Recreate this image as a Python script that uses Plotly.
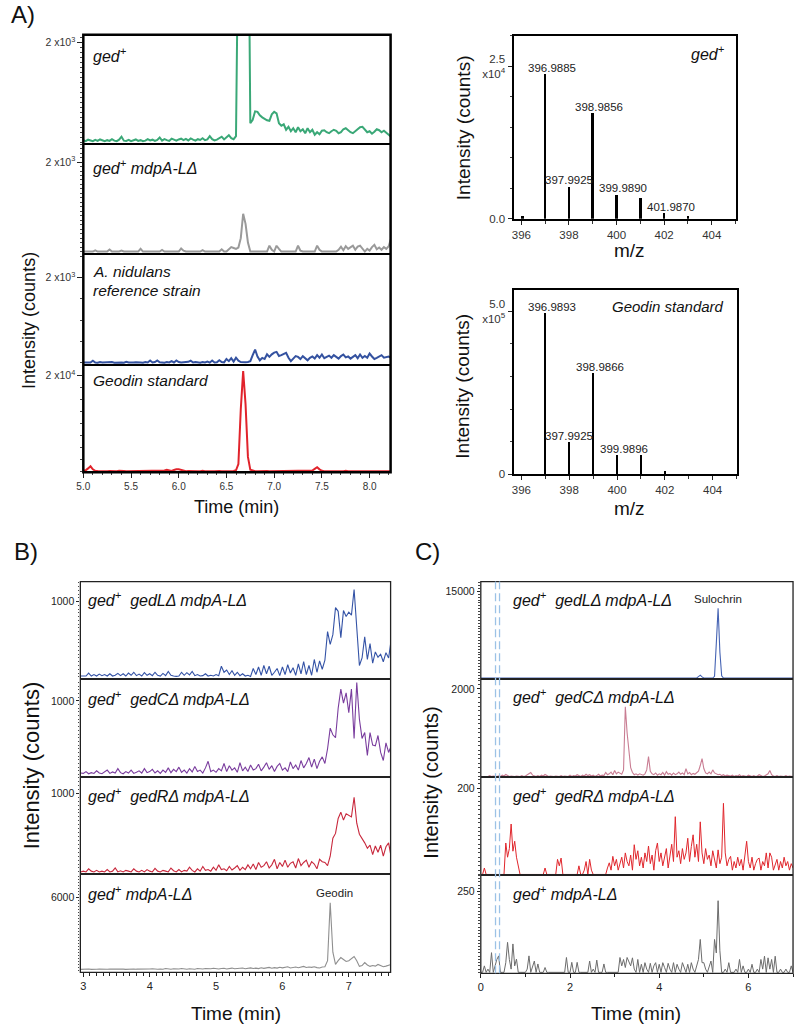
import numpy as np
import plotly.graph_objects as go

W, H = 797, 1033
FONT = "Liberation Sans, Arial, sans-serif"

# ===================== DATA =====================
# Panel A (left): extracted ion chromatograms, sampled every 0.025 min from 5.0 min
a_start, a_step = 5.0, 0.025
a_ged = [40, 20, 50, 30, 20, 45, 25, 55, 30, 20,
         40, 25, 60, 30, 20, 50, 110, 30, 25, 45,
         20, 35, 55, 25, 40, 20, 30, 60, 35, 50,
         25, 45, 95, 30, 60, 40, 25, 70, 45, 30,
         55, 70, 40, 65, 35, 75, 50, 30, 60, 45,
         80, 40, 55, 120, 60, 35, 50, 80, 110, 55,
         90, 140, 80, 60, 120, 4000, 9000, 9500, 9200, 6000,
         380, 450, 620, 610, 540, 500, 470, 440, 430, 560,
         610, 580, 380, 330, 360, 250, 310, 220, 280, 200,
         300, 220, 260, 180, 280, 200, 250, 150, 200, 160,
         230, 240, 200, 180, 220, 250, 230, 180, 200, 260,
         280, 240, 200, 180, 220, 260, 300, 310, 250, 200,
         220, 170, 210, 260, 240, 200, 230, 180, 150, 110]
a_ged_mdpA = [0, 0, 0, 0, 0, 25, 0, 0, 0, 0,
              0, 45, 0, 0, 0, 0, 20, 0, 0, 0,
              0, 0, 0, 0, 60, 0, 0, 0, 0, 0,
              0, 0, 0, 35, 0, 0, 0, 0, 0, 0,
              0, 70, 20, 0, 0, 0, 0, 0, 0, 0,
              30, 0, 0, 0, 0, 0, 0, 0, 50, 0,
              0, 60, 100, 80, 60, 90, 300, 845, 620, 200,
              0, 0, 0, 0, 0, 0, 0, 0, 130, 40,
              0, 130, 60, 0, 0, 0, 0, 0, 0, 0,
              130, 20, 0, 0, 0, 0, 0, 0, 130, 40,
              0, 0, 0, 0, 0, 0, 0, 40, 110, 30,
              120, 60, 100, 130, 40, 110, 130, 50, 0, 60,
              20, 100, 150, 50, 90, 40, 100, 60, 120, 290]
a_nidulans = [10, 5, 15, 10, 50, 10, 5, 20, 10, 15,
              5, 10, 20, 5, 10, 15, 10, 5, 25, 10,
              5, 10, 15, 5, 10, 5, 20, 10, 55, 10,
              20, 55, 15, 10, 5, 20, 10, 40, 10, 55,
              20, 10, 15, 5, 25, 50, 10, 20, 15, 5,
              20, 10, 30, 5, 55, 10, 15, 60, 20, 10,
              90, 40, 110, 30, 120, 50, 20, 10, 15, 20,
              40, 180, 313, 150, 60, 117, 90, 200, 140, 200,
              240, 258, 160, 180, 200, 235, 120, 40, 100, 160,
              140, 90, 157, 110, 60, 118, 150, 100, 180, 120,
              196, 110, 141, 170, 120, 180, 141, 100, 160, 196,
              130, 150, 100, 141, 180, 110, 196, 120, 160, 118,
              219, 150, 90, 118, 160, 180, 120, 140, 150, 118]
a_geodin_std = [100, 200, 600, 1040, 400, 100, 50, 0, 50, 0,
                0, 50, 0, 0, 0, 100, 0, 50, 0, 0,
                50, 0, 100, 0, 0, 50, 0, 0, 100, 0,
                0, 50, 0, 100, 150, 300, 100, 50, 250, 420,
                420, 300, 100, 0, 50, 0, 0, 50, 0, 0,
                100, 0, 50, 0, 0, 0, 100, 50, 0, 0,
                50, 0, 100, 50, 200, 1500, 13000, 21000, 14000, 3000,
                300, 100, 0, 0, 50, 0, 0, 50, 0, 0,
                0, 100, 0, 0, 50, 0, 0, 0, 100, 0,
                0, 50, 0, 0, 100, 0, 150, 500, 830, 400,
                100, 0, 50, 0, 0, 0, 50, 0, 0, 0,
                100, 0, 0, 50, 0, 0, 0, 50, 0, 0,
                100, 0, 50, 0, 0, 100, 0, 50, 0, 0]

# Panel A (right): mass spectra
ms_ged_mz = [396.03, 396.9885, 397.9925, 398.9856, 399.9890, 400.99, 401.9870, 402.99]
ms_ged_int = [500, 23700, 5300, 17300, 4000, 3500, 1000, 500]
ms_ged_lbl = ["", "396.9885", "397.9925", "398.9856", "399.9890", "", "401.9870", ""]
ms_std_mz = [396.9893, 397.9925, 398.9866, 399.9896, 400.99, 401.99]
ms_std_int = [494000, 98000, 311000, 58000, 58000, 9000]
ms_std_lbl = ["396.9893", "397.9925", "398.9866", "399.9896", "", ""]

# Panel B: sampled every 0.04 min from 2.96 min
b_start, b_step = 2.96, 0.04
b_gedL = [10, 15, 10, 50, 10, 30, 10, 35, 15, 30,
          10, 40, 10, 20, 45, 15, 40, 10, 50, 20,
          60, 15, 35, 10, 55, 20, 40, 15, 60, 20,
          10, 45, 15, 70, 20, 10, 5, 10, 60, 20,
          55, 25, 70, 15, 30, 10, 15, 40, 10, 20,
          10, 30, 15, 140, 60, 90, 30, 80, 20, 60,
          15, 40, 10, 20, 5, 110, 30, 130, 20, 150,
          40, 140, 20, 60, 110, 15, 130, 30, 160, 50,
          120, 20, 170, 40, 200, 30, 150, 20, 230, 60,
          210, 100, 220, 600, 430, 560, 920, 870, 520, 880,
          800, 860, 820, 1160, 700, 150, 250, 530, 230, 440,
          180, 330, 260, 300, 200, 320, 250, 500]
b_gedC = [20, 15, 40, 10, 25, 15, 50, 20, 10, 30,
          60, 15, 35, 20, 80, 25, 10, 40, 20, 60,
          15, 30, 50, 20, 80, 25, 40, 70, 20, 50,
          15, 60, 30, 90, 25, 70, 40, 100, 30, 60,
          20, 80, 35, 110, 40, 60, 20, 90, 180, 40,
          60, 30, 80, 50, 150, 40, 120, 60, 90, 30,
          160, 50, 100, 40, 130, 60, 80, 140, 50, 100,
          160, 70, 120, 40, 110, 150, 60, 90, 40, 170,
          80, 130, 60, 190, 90, 150, 230, 100, 210, 80,
          180, 240, 150, 350, 630, 540, 500, 900, 1160, 970,
          1110, 840, 1160, 490, 1250, 750, 490, 570, 260, 570,
          400, 390, 530, 300, 190, 430, 300, 390]
b_gedR = [0, 10, 0, 40, 10, 0, 20, 0, 10, 0,
          30, 0, 10, 50, 0, 15, 0, 20, 10, 0,
          40, 10, 0, 20, 0, 30, 10, 0, 45, 10,
          0, 20, 10, 0, 50, 15, 0, 30, 0, 20,
          10, 60, 20, 0, 40, 10, 70, 20, 30, 10,
          60, 20, 90, 30, 40, 15, 70, 25, 50, 80,
          20, 60, 30, 90, 40, 100, 30, 120, 60, 80,
          130, 50, 90, 160, 40, 120, 70, 150, 60, 110,
          130, 50, 170, 80, 120, 150, 60, 130, 100, 40,
          160, 130, 120, 80, 200, 430, 490, 680, 760, 660,
          740, 720, 700, 950, 620, 480, 430, 370, 300, 340,
          220, 330, 250, 340, 200, 320, 370, 180]
b_mdpA = [80, 100, 90, 120, 80, 110, 90, 100, 80, 120,
          90, 100, 110, 80, 120, 90, 100, 80, 110, 90,
          120, 100, 90, 130, 100, 80, 110, 140, 90, 100,
          120, 100, 150, 110, 90, 130, 100, 120, 160, 110,
          100, 140, 120, 90, 150, 130, 110, 160, 120, 140,
          180, 130, 110, 150, 170, 120, 140, 190, 130, 160,
          150, 200, 140, 180, 210, 160, 190, 150, 220, 170,
          200, 250, 180, 230, 190, 260, 210, 240, 300, 200,
          230, 280, 220, 260, 330, 240, 280, 250, 300, 230,
          200, 280, 300, 800, 5590, 1500, 500, 800, 1060, 900,
          740, 800, 950, 1150, 800, 330, 400, 650, 450, 330,
          400, 350, 490, 380, 300, 350, 450, 490]
b_geodin_time = 6.72

# Panel C: sampled every 0.04 min from 0 min
c_start, c_step = 0.0, 0.04
c_gedL_time = [0.0, 2.96, 3.0, 3.04, 4.84, 4.88, 4.92, 4.96, 5.0, 5.2, 5.24, 5.28, 5.32, 5.36, 5.40, 5.44, 7.0]
c_gedL_val = [0, 0, 40, 0, 0, 250, 500, 200, 0, 0, 300, 6000, 12070, 4500, 400, 0, 0]
c_gedC = [0, 0, 10, 0, 0, 20, 0, 10, 0, 0,
          15, 0, 30, 10, 45, 20, 0, 10, 0, 0,
          10, 0, 0, 20, 0, 10, 40, 60, 90, 30,
          10, 0, 20, 0, 30, 10, 45, 20, 0, 10,
          0, 0, 10, 0, 0, 20, 0, 10, 0, 0,
          30, 0, 20, 10, 40, 20, 0, 30, 10, 50,
          20, 40, 10, 30, 0, 20, 50, 10, 30, 20,
          90, 40, 60, 100, 40, 135, 60, 100, 80, 50,
          150, 1595, 1000, 545, 200, 90, 40, 60, 30, 60,
          40, 30, 60, 150, 455, 120, 60, 40, 80, 30,
          60, 40, 90, 30, 110, 50, 70, 30, 80, 40,
          60, 100, 50, 80, 40, 180, 60, 90, 40, 70,
          50, 90, 120, 250, 410, 180, 80, 60, 100, 60,
          150, 80, 60, 40, 50, 20, 40, 10, 30, 20,
          10, 30, 0, 20, 10, 40, 0, 20, 10, 0,
          30, 10, 0, 20, 0, 10, 40, 20, 0, 10,
          30, 60, 135, 40, 10, 0, 20, 0, 10, 0,
          0, 20, 0, 10, 0, 0]
c_gedR = [0, 0, 15, 0, 0, 0, 0, 0, 0, 0,
          0, 0, 0, 0, 73, 40, 60, 117, 54, 77,
          40, 20, 0, 0, 0, 0, 0, 0, 0, 0,
          0, 0, 0, 0, 0, 0, 15, 0, 0, 0,
          0, 0, 0, 35, 20, 38, 0, 0, 0, 0,
          0, 0, 0, 0, 0, 20, 0, 0, 10, 30,
          0, 35, 10, 0, 0, 0, 0, 0, 0, 0,
          0, 15, 27, 10, 42, 20, 35, 10, 25, 40,
          15, 50, 30, 20, 45, 10, 69, 35, 55, 20,
          40, 15, 50, 30, 66, 25, 45, 10, 55, 73,
          30, 50, 20, 40, 60, 15, 45, 70, 30, 134,
          40, 55, 25, 60, 35, 50, 84, 30, 65, 92,
          40, 70, 30, 122, 50, 25, 60, 35, 45, 20,
          55, 30, 15, 57, 25, 40, 165, 50, 20, 35,
          42, 10, 30, 15, 40, 20, 35, 10, 45, 77,
          30, 15, 40, 10, 25, 35, 38, 10, 30, 20,
          50, 15, 50, 40, 10, 25, 35, 10, 30, 15,
          40, 20, 30, 10, 25, 15]
c_mdpA = [0, 0, 20, 0, 10, 0, 61, 0, 20, 40,
          51, 0, 0, 0, 30, 93, 40, 10, 88, 20,
          41, 0, 0, 0, 0, 0, 10, 51, 0, 20,
          35, 0, 26, 0, 0, 0, 15, 0, 0, 0,
          0, 0, 0, 0, 0, 0, 0, 0, 46, 0,
          0, 31, 0, 0, 31, 0, 0, 0, 0, 0,
          0, 35, 0, 10, 0, 38, 0, 0, 0, 26,
          0, 0, 0, 0, 0, 0, 0, 0, 46, 20,
          40, 15, 46, 30, 20, 45, 10, 0, 40, 0,
          25, 0, 30, 10, 0, 28, 0, 20, 30, 0,
          25, 0, 30, 15, 0, 28, 10, 0, 30, 0,
          25, 10, 0, 30, 15, 0, 25, 0, 30, 10,
          0, 20, 40, 102, 30, 30, 10, 0, 20, 35,
          0, 102, 60, 222, 67, 0, 0, 10, 0, 30,
          0, 0, 0, 10, 0, 40, 0, 20, 0, 0,
          10, 0, 25, 0, 0, 10, 0, 40, 10, 50,
          0, 45, 10, 40, 0, 50, 0, 0, 10, 0,
          0, 10, 0, 0, 20, 0]
c_sulochrin_time = 5.32
c_marker_times = [0.33, 0.42]


def grid(start, step, vals):
    return list(np.round(start + step * np.arange(len(vals)), 4))


# ===================== FIGURE =====================
fig = go.Figure()
counter = [0]
shapes = []


def make_axes(box, xr, yr, xkw, ykw):
    counter[0] += 1
    n = counter[0]
    sfx = "" if n == 1 else str(n)
    x0, y0, x1, y1 = box
    fig.update_layout(**{
        "xaxis" + sfx: dict(domain=[x0 / W, x1 / W], range=xr, anchor="y" + sfx,
                            showgrid=False, zeroline=False, **xkw),
        "yaxis" + sfx: dict(domain=[1 - y1 / H, 1 - y0 / H], range=yr, anchor="x" + sfx,
                            showgrid=False, zeroline=False, **ykw),
    })
    return "x" + sfx, "y" + sfx


def frame(box, color, width):
    x0, y0, x1, y1 = box
    shapes.append(dict(type="rect", xref="paper", yref="paper", x0=x0 / W, x1=x1 / W,
                       y0=1 - y1 / H, y1=1 - y0 / H, line=dict(color=color, width=width),
                       fillcolor="rgba(0,0,0,0)"))


def line_trace(xid, yid, x, y, color, width):
    fig.add_trace(go.Scatter(x=x, y=y, xaxis=xid, yaxis=yid, mode="lines",
                             line=dict(color=color, width=width), hoverinfo="skip"))


annots = []


def text(px, py, s, size, xanchor="center", angle=0, color="#111", italic=False):
    if italic:
        s = "<i>" + s + "</i>"
    annots.append(dict(x=px / W, y=1 - py / H, xref="paper", yref="paper", text=s,
                       showarrow=False, xanchor=xanchor, yanchor="middle", textangle=angle,
                       font=dict(family=FONT, size=size, color=color)))


# ---------- Panel A left ----------
a_boxes = [(77, 35, 387, 145), (77, 145, 387, 255), (77, 255, 387, 367), (77, 367, 387, 475)]
a_yr = [[-40, 2160], [-44, 2400], [-47, 2565], [-210, 22290]]
a_ticks = [(2000, "2 x10<sup>3</sup>", 100), (2000, "2 x10<sup>3</sup>", 100),
           (2000, "2 x10<sup>3</sup>", 500), (20000, "2 x10<sup>4</sup>", 2500)]
a_series = [(a_ged, "#3aa877"), (a_ged_mdpA, "#9a9a9a"), (a_nidulans, "#3452a0"), (a_geodin_std, "#e1232b")]
for k in range(4):
    bottom = k == 3
    xkw = dict(showline=True, mirror=True, linecolor="black", linewidth=1.3)
    if bottom:
        xkw.update(ticks="outside", ticklen=5, tickwidth=1.2, tickcolor="#222",
                   tick0=5.0, dtick=0.5, tickformat=".1f",
                   tickfont=dict(family=FONT, size=10, color="#333"),
                   minor=dict(ticks="outside", ticklen=2, dtick=0.1, tickcolor="#444"))
    else:
        xkw.update(ticks="", showticklabels=False)
    tv, tt, md = a_ticks[k]
    ykw = dict(showline=False, tickmode="array", tickvals=[tv], ticktext=[tt],
               ticks="outside", ticklen=5, tickcolor="#222",
               tickfont=dict(family=FONT, size=10.5, color="#333"),
               minor=dict(ticks="outside", ticklen=2.5, dtick=md, tick0=0, tickcolor="#444"))
    xid, yid = make_axes(a_boxes[k], [5.0, 8.22], a_yr[k], xkw, ykw)
    vals, col = a_series[k]
    line_trace(xid, yid, grid(a_start, a_step, vals), vals, col, 2)
frame((77, 35, 387, 475), "black", 2.5)

text(85, 55, "ged<sup>+</sup>", 16, "left", italic=True)
text(85, 168, "ged<sup>+</sup> mdpA-LΔ", 16, "left", italic=True)
text(85, 273, "A. nidulans", 15.5, "left", italic=True)
text(85, 292, "reference strain", 15.5, "left", italic=True)
text(85, 383, "Geodin standard", 15.5, "left", italic=True)
text(232, 510, "Time (min)", 18)
text(22, 322, "Intensity (counts)", 18, angle=-90)
text(16, 15, "A)", 24)

# ---------- Panel A right: spectra ----------
spec = [((511, 36, 735, 220), [0, 30000], ms_ged_mz, ms_ged_int, ms_ged_lbl,
         ["0.0", "2.5<br>x10<sup>4</sup>"], [0, 25000], 5000),
        ((511, 292, 736, 477), [0, 564000], ms_std_mz, ms_std_int, ms_std_lbl,
         ["0", "5.0<br>x10<sup>5</sup>"], [0, 500000], 100000)]
for box, yr, mz, inten, lbls, ttext, tvals, md in spec:
    xkw = dict(showline=True, mirror=True, linecolor="black", linewidth=2,
               ticks="outside", ticklen=4, tickcolor="#222", tick0=396, dtick=2,
               tickfont=dict(family=FONT, size=11.5, color="#333"),
               minor=dict(ticks="outside", ticklen=3, dtick=1, tick0=396, tickcolor="#333"))
    ykw = dict(showline=True, mirror=True, linecolor="black", linewidth=2,
               tickmode="array", tickvals=tvals, ticktext=ttext, ticks="outside", ticklen=4,
               tickcolor="#222", tickfont=dict(family=FONT, size=11.5, color="#333"),
               minor=dict(ticks="outside", ticklen=2, dtick=md, tick0=0, tickcolor="#444"))
    xid, yid = make_axes(box, [395.67, 405], yr, xkw, ykw)
    fig.add_trace(go.Bar(x=mz, y=inten, xaxis=xid, yaxis=yid, width=0.08,
                         marker=dict(color="black", line=dict(width=0)), hoverinfo="skip"))
    for m, v, lb in zip(mz, inten, lbls):
        if lb:
            shift = 0 if lb.startswith("397.99") else 7
            annots.append(dict(x=m, y=v, xref=xid, yref=yid, text=lb, showarrow=False,
                               xanchor="center", yanchor="bottom", xshift=shift, yshift=-2,
                               font=dict(family=FONT, size=11.5, color="#222")))

text(707, 53, "ged<sup>+</sup>", 16, italic=True)
text(667, 308, "Geodin standard", 15, italic=True)
text(460, 128, "Intensity (counts)", 19, angle=-90)
text(628, 252, "m/z", 19)
text(460, 388, "Intensity (counts)", 19, angle=-90)
text(628, 511, "m/z", 19)

# ---------- Panel B ----------
b_boxes = [(74, 585, 387, 683), (74, 683, 387, 782), (74, 782, 387, 879), (74, 879, 387, 978)]
b_yr = [[-30, 1265], [-40, 1297], [-25, 1202], [-160, 7970]]
b_ticks = [(1000, 50), (1000, 50), (1000, 50), (6000, 250)]
b_series = [(b_gedL, "#3453a6"), (b_gedC, "#7a3d9e"), (b_gedR, "#c8283c"), (b_mdpA, "#8f8f8f")]
b_ids = []
for k in range(4):
    bottom = k == 3
    xkw = dict(showline=True, mirror=True, linecolor="#222", linewidth=0.9)
    if bottom:
        xkw.update(ticks="outside", ticklen=4, tickcolor="#222", tick0=3, dtick=1,
                   tickfont=dict(family=FONT, size=11, color="#222"),
                   minor=dict(ticks="outside", ticklen=2.5, dtick=0.1, tick0=3, tickcolor="#222"))
    else:
        xkw.update(ticks="", showticklabels=False)
    tv, md = b_ticks[k]
    ykw = dict(showline=False, tickmode="array", tickvals=[tv], ticktext=[str(tv)],
               ticks="outside", ticklen=3, tickcolor="#222",
               tickfont=dict(family=FONT, size=10.5, color="#222"),
               minor=dict(ticks="outside", ticklen=1.5, dtick=md, tick0=0, tickcolor="#444"))
    xid, yid = make_axes(b_boxes[k], [2.955, 7.63], b_yr[k], xkw, ykw)
    b_ids.append((xid, yid))
    vals, col = b_series[k]
    line_trace(xid, yid, grid(b_start, b_step, vals), vals, col, 1.1)
frame((74, 585, 387, 978), "#222", 1.3)

b_labels = ["ged<sup>+</sup>  gedLΔ mdpA-LΔ", "ged<sup>+</sup>  gedCΔ mdpA-LΔ",
            "ged<sup>+</sup>  gedRΔ mdpA-LΔ", "ged<sup>+</sup> mdpA-LΔ"]
for lab, py in zip(b_labels, [603, 702, 800, 898]):
    text(80, py, lab, 16, "left", italic=True)
annots.append(dict(x=b_geodin_time, y=1 - 898 / H, xref=b_ids[3][0], yref="paper", text="Geodin",
                   showarrow=False, xanchor="center", yanchor="middle", xshift=4,
                   font=dict(family=FONT, size=11.5, color="#222")))
text(231, 1019, "Time (min)", 19)
text(25, 770, "Intensity (counts)", 22, angle=-90)
text(19, 555, "B)", 24)

# ---------- Panel C ----------
c_boxes = [(478, 585, 793, 683), (478, 683, 793, 782), (478, 782, 793, 880), (478, 880, 793, 979)]
c_yr = [[-170, 16700], [-23, 2227], [-1, 225], [-3, 302]]
c_ticks = [(15000, 500), (2000, 100), (200, 10), (250, 10)]
c_ids = []
for k in range(4):
    bottom = k == 3
    xkw = dict(showline=True, mirror=True, linecolor="#222", linewidth=0.9)
    if bottom:
        xkw.update(ticks="outside", ticklen=4, tickcolor="#222", tick0=0, dtick=2,
                   tickfont=dict(family=FONT, size=11, color="#222"),
                   minor=dict(ticks="outside", ticklen=2.5, dtick=1, tick0=0, tickcolor="#222"))
    else:
        xkw.update(ticks="", showticklabels=False)
    tv, md = c_ticks[k]
    ykw = dict(showline=False, tickmode="array", tickvals=[tv], ticktext=[str(tv)],
               ticks="outside", ticklen=3, tickcolor="#222",
               tickfont=dict(family=FONT, size=10.5, color="#222"),
               minor=dict(ticks="outside", ticklen=1.5, dtick=md, tick0=0, tickcolor="#444"))
    xid, yid = make_axes(c_boxes[k], [0, 7.0], c_yr[k], xkw, ykw)
    c_ids.append((xid, yid))
frame((478, 585, 793, 979), "#222", 1.3)

line_trace(c_ids[0][0], c_ids[0][1], c_gedL_time, c_gedL_val, "#4563b3", 1.1)
line_trace(c_ids[1][0], c_ids[1][1], grid(c_start, c_step, c_gedC), c_gedC, "#c97d93", 1.1)
line_trace(c_ids[2][0], c_ids[2][1], grid(c_start, c_step, c_gedR), c_gedR, "#e0262c", 1.0)
line_trace(c_ids[3][0], c_ids[3][1], grid(c_start, c_step, c_mdpA), c_mdpA, "#6c6c6c", 1.0)

for t in c_marker_times:
    shapes.append(dict(type="line", xref=c_ids[0][0], yref="paper", x0=t, x1=t,
                       y0=1 - 979 / H, y1=1 - 585 / H,
                       line=dict(color="#9cc2e6", width=1.3, dash="8px,4px")))

c_labels = ["ged<sup>+</sup>  gedLΔ mdpA-LΔ", "ged<sup>+</sup>  gedCΔ mdpA-LΔ",
            "ged<sup>+</sup>  gedRΔ mdpA-LΔ", "ged<sup>+</sup> mdpA-LΔ"]
for lab, py in zip(c_labels, [603, 700, 800, 898]):
    text(508, py, lab, 16, "left", italic=True)
annots.append(dict(x=c_sulochrin_time, y=1 - 602 / H, xref=c_ids[0][0], yref="paper", text="Sulochrin",
                   showarrow=False, xanchor="center", yanchor="middle",
                   font=dict(family=FONT, size=11.5, color="#222")))
text(635, 1019, "Time (min)", 19)
text(428, 787, "Intensity (counts)", 20, angle=-90)
text(424, 555, "C)", 24)

fig.update_layout(width=W, height=H, margin=dict(l=0, r=0, t=0, b=0),
                  paper_bgcolor="white", plot_bgcolor="white", showlegend=False,
                  bargap=0, annotations=annots, shapes=shapes,
                  font=dict(family=FONT))
fig.write_html("out.html", config={"displayModeBar": False},
               post_script="document.body.style.margin='0px';document.body.style.padding='0px';"
                           "document.documentElement.style.overflow='hidden';")
